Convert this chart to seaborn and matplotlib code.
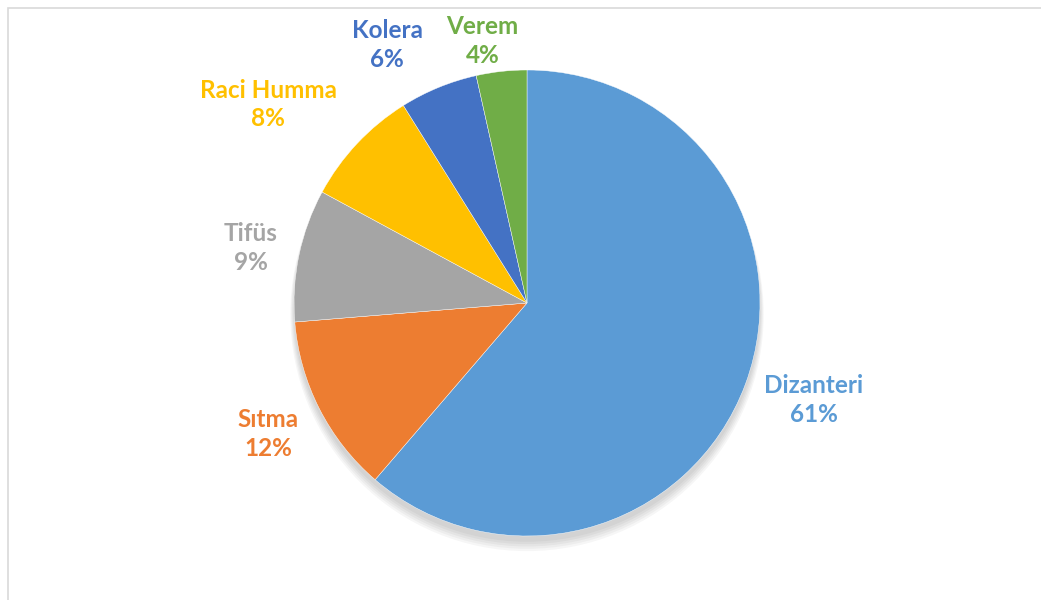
import numpy as np
import seaborn as sns
import matplotlib.pyplot as plt
from matplotlib.patches import Rectangle, Circle

# data
diseases = ['Dizanteri', 'Sıtma', 'Tifüs', 'Raci Humma', 'Kolera', 'Verem']
shares = [61.3, 12.4, 9.2, 8.2, 5.4, 3.5]
pct_labels = ['61%', '12%', '9%', '8%', '6%', '4%']
colors = ['#5B9BD5', '#ED7D31', '#A5A5A5', '#FFC000', '#4472C4', '#70AD47']

sns.set_theme(style='white')
plt.rcParams['font.family'] = ['Lato', 'DejaVu Sans']

fig = plt.figure(figsize=(10.41, 6), dpi=100)
ax = fig.add_axes([0, 0, 1, 1])

# soft shadow under the pie (mostly at the bottom)
for i in range(5):
    ax.add_patch(Circle((0, -0.025 - 0.006 * i), 1.0 + 0.004 * i, color='black',
                        alpha=0.035, linewidth=0, zorder=0))

wedges, _ = ax.pie(shares, colors=sns.color_palette(colors), startangle=90,
                   counterclock=False, center=(0, 0), radius=1,
                   wedgeprops=dict(linewidth=0.3, edgecolor='white', zorder=2))

# Excel best-fit label placement: distance and angle shift per slice
label_dist = [1.30, 1.245, 1.21, 1.40, 1.26, 1.14]
label_shift = [1.7, -0.2, 0.6, 5.7, 6.1, 3.3]
for w, name, pct, col, d, s in zip(wedges, diseases, pct_labels, colors, label_dist, label_shift):
    ang = np.deg2rad((w.theta1 + w.theta2) / 2 + s)
    ax.text(d * np.cos(ang), d * np.sin(ang), f'{name}\n{pct}', color=col,
            ha='center', va='center', fontsize=17.5, fontweight='bold', linespacing=1.3)

# pixel mapping: centre at (527, 303), radius 233 px
ax.set_xlim(-527 / 233, (1041 - 527) / 233)
ax.set_ylim((303 - 600) / 233, 303 / 233)
ax.set_aspect('auto')
ax.axis('off')

# chart area border
fig.patches.append(Rectangle((8 / 1041, -0.1), 1.2, (600 - 8) / 600 + 0.1,
                             transform=fig.transFigure, fill=False,
                             edgecolor='#D9D9D9', linewidth=1.2))

plt.savefig('out.png', dpi=100)
